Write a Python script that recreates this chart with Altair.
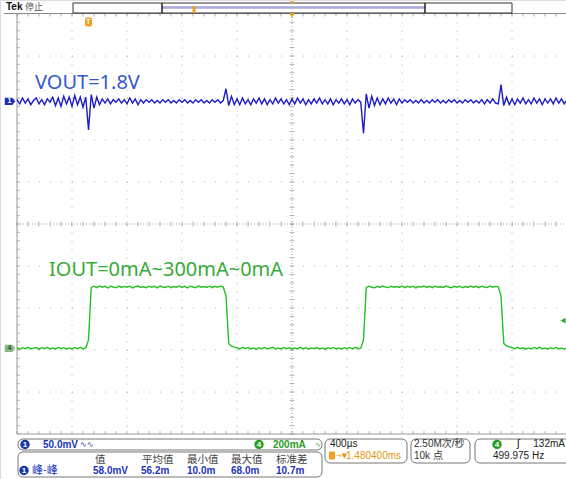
import altair as alt
import pandas as pd

# ---------------- data ----------------
# time base in ms (400 us/div, 10 divisions, sample step 0.02 ms)
t_ms = [round(-2.0 + 0.02 * i, 2) for i in range(201)]

# CH1: VOUT ripple in mV (AC part around 1.8 V)
vout_mv = [
    2, -3, 4, -2, 3, -4, 1, 4, -3, 2, -4, 3, -1, 5, -5, 4, -6, 6, -3, 5,
    -6, 7, -4, 5, -7, 5, -34, 8, -8, 5, -4, 3, -2, 3, -3, 2, -1, 3, -2, 2,
    -3, 4, -2, 3, -4, 2, -2, 2, -1, 2, -2, 1, -2, 2, -1, 2, -2, 1, -2, 2,
    -1, 2, -2, 1, -2, 2, -1, 2, -2, 1, -2, 2, -1, 2, -2, 1, 15, -5, 6, -4,
    3, -4, 4, -3, 2, -4, 3, -2, 4, -3, 3, -4, 2, -3, 4, -2, 3, -3, 2, -4,
    3, -3, 4, -2, 3, -4, 2, -3, 3, -2, 4, -3, 2, -3, 3, -4, 2, -2, 3, -3,
    2, -4, 3, -2, 2, -1, -38, 9, -8, 6, -5, 4, -4, 3, -3, 4, -2, 3, -4, 3,
    -2, 2, -1, 2, -2, 1, -2, 2, -2, 1, -2, 2, -1, 2, -2, 1, -2, 2, -1, 2,
    -2, 1, -2, 2, -1, 2, -2, 1, -2, 2, -3, 2, -2, 3, -2, -3, 20, -5, 5, -4,
    3, -4, 3, -2, 4, -3, 2, -3, 4, -2, 3, -4, 3, -2, 3, -3, 4, -2, 3, -3, 2,
]

# CH4: IOUT in mA (0 mA -> 300 mA -> 0 mA load step)
iout_ma = [
    2, -4, 3, -2, 5, -3, 1, 4, -5, 3, -2, 4, -3, 2, -4, 5, -2, 3, -4, 2,
    -3, 4, -2, 5, -3, 2, 40, 290, 296, 289, 297, 291, 295, 288, 296, 292, 289, 297, 290, 295,
    291, 296, 288, 294, 297, 290, 293, 289, 296, 291, 295, 288, 297, 292, 290, 296, 289, 294, 291, 297,
    290, 295, 288, 296, 292, 289, 297, 291, 294, 290, 296, 289, 295, 291, 297, 292, 250, 22, 10, 6,
    3, -4, 5, -2, 4, -3, 2, -5, 3, -2, 4, -3, 1, 5, -4, 2, -3, 4, -2, 3,
    -4, 2, -3, 5, -2, 3, -4, 2, -1, 4, -3, 2, -5, 3, -2, 4, -3, 2, -4, 3,
    -2, 4, -3, 5, -2, 1, 40, 290, 296, 291, 288, 295, 290, 297, 292, 289, 296, 291, 294, 290,
    297, 289, 295, 291, 296, 288, 294, 292, 297, 290, 295, 289, 296, 291, 293, 290, 297, 292, 288, 295,
    291, 296, 289, 294, 290, 297, 291, 295, 289, 296, 292, 290, 297, 291, 295, 293, 250, 24, 12, 7,
    4, -3, 5, -2, 3, -4, 2, -3, 4, -2, 5, -3, 2, -4, 3, -2, 4, -3, 2, -4, 3,
]

ch1_offset_div = 2.92     # CH1 position (div)
ch1_scale = 50.0          # mV/div
ch4_offset_div = -2.96    # CH4 position (div)
ch4_scale = 200.0         # mA/div
trigger_level_ma = 132.0
trigger_time_ms = -1.48

div_x = [-1.6, -1.2, -0.8, -0.4, 0.4, 0.8, 1.2, 1.6]
div_y = [-4, -3, -2, -1, 1, 2, 3, 4]
minor_x = [round(-2.0 + 0.08 * k, 2) for k in range(51)]
minor_y = [round(-5.0 + 0.2 * k, 1) for k in range(51)]

meas_headers = ["值", "平均值", "最小值", "最大值", "标准差"]
meas_values = ["58.0mV", "56.2m", "10.0m", "68.0m", "10.7m"]

# ---------------- scales ----------------
X = alt.Scale(domain=[-2, 2], range=[17, 567], nice=False, zero=False)
Y = alt.Scale(domain=[-5, 5], range=[434, 14], nice=False, zero=False)

one = pd.DataFrame({"k": [0]})
CJK = "Liberation Sans, Noto Sans CJK SC"
UI = "Liberation Sans"

BLUE_TXT = "#2233bb"
GREEN_TXT = "#2a9a2a"
ORANGE = "#f0a020"


def txt(s, x, y, color="#222", size=10, weight="normal", align="left", font=UI):
    return alt.Chart(one).mark_text(
        text=s, color=color, fontSize=size, fontWeight=weight, align=align,
        baseline="middle", font=font,
    ).encode(x=alt.value(x), y=alt.value(y))


def box(x1, x2, y1, y2, stroke="#777", fill="white", r=5, sw=1):
    return alt.Chart(one).mark_rect(
        fill=fill, stroke=stroke, strokeWidth=sw, cornerRadius=r
    ).encode(x=alt.value(x1), x2=alt.value(x2), y=alt.value(y1), y2=alt.value(y2))


def hrule(x1, x2, y, color, sw=1, dash=None):
    kw = dict(color=color, strokeWidth=sw)
    if dash:
        kw["strokeDash"] = dash
    return alt.Chart(one).mark_rule(**kw).encode(
        x=alt.value(x1), x2=alt.value(x2), y=alt.value(y))


def vrule(x, y1, y2, color, sw=1, dash=None):
    kw = dict(color=color, strokeWidth=sw)
    if dash:
        kw["strokeDash"] = dash
    return alt.Chart(one).mark_rule(**kw).encode(
        x=alt.value(x), y=alt.value(y1), y2=alt.value(y2))


def badge(x, y, label, fill):
    return [
        alt.Chart(one).mark_point(filled=True, shape="circle", size=90, color=fill, opacity=1)
        .encode(x=alt.value(x), y=alt.value(y)),
        txt(label, x, y, color="white", size=8, weight="bold", align="center"),
    ]


layers = []

# ---------------- graticule ----------------
layers.append(
    alt.Chart(pd.DataFrame({"t": div_x})).mark_rule(color="#b0b0b0", strokeDash=[1, 7.4])
    .encode(x=alt.X("t:Q", scale=X, axis=None), y=alt.value(14), y2=alt.value(434))
)
layers.append(
    alt.Chart(pd.DataFrame({"d": div_y})).mark_rule(color="#b0b0b0", strokeDash=[1, 10])
    .encode(y=alt.Y("d:Q", scale=Y, axis=None), x=alt.value(17), x2=alt.value(567))
)
# centre cross
layers.append(
    alt.Chart(one).mark_rule(color="#a8a8a8", strokeDash=[1, 2])
    .encode(x=alt.XDatum(0, scale=X, axis=None), y=alt.value(14), y2=alt.value(434))
)
layers.append(
    alt.Chart(one).mark_rule(color="#a8a8a8", strokeDash=[1, 2])
    .encode(y=alt.YDatum(0, scale=Y, axis=None), x=alt.value(17), x2=alt.value(567))
)
layers.append(
    alt.Chart(pd.DataFrame({"t": minor_x})).mark_tick(orient="vertical", size=5, thickness=1, color="#999")
    .encode(x=alt.X("t:Q", scale=X, axis=None), y=alt.YDatum(0, scale=Y, axis=None))
)
layers.append(
    alt.Chart(pd.DataFrame({"d": minor_y})).mark_tick(orient="horizontal", size=5, thickness=1, color="#999")
    .encode(y=alt.Y("d:Q", scale=Y, axis=None), x=alt.XDatum(0, scale=X, axis=None))
)
# borders + their ticks
layers.append(vrule(17, 14, 434, "#999"))
layers.append(hrule(4, 566, 13.5, "#888"))
layers.append(hrule(17, 566, 434, "#999"))
layers.append(
    alt.Chart(pd.DataFrame({"t": minor_x})).mark_tick(orient="vertical", size=3, thickness=1, color="#888")
    .encode(x=alt.X("t:Q", scale=X, axis=None), y=alt.value(15))
)
layers.append(
    alt.Chart(pd.DataFrame({"t": minor_x})).mark_tick(orient="vertical", size=3, thickness=1, color="#999")
    .encode(x=alt.X("t:Q", scale=X, axis=None), y=alt.value(432.5))
)
layers.append(
    alt.Chart(pd.DataFrame({"d": minor_y})).mark_tick(orient="horizontal", size=3, thickness=1, color="#999")
    .encode(y=alt.Y("d:Q", scale=Y, axis=None), x=alt.value(18.5))
)

# ---------------- traces ----------------
trace_df = pd.DataFrame({"t": t_ms, "vout": vout_mv, "iout": iout_ma})
layers.append(
    alt.Chart(trace_df)
    .transform_calculate(y=f"{ch1_offset_div} + datum.vout / {ch1_scale}")
    .mark_line(color="#1c1cc8", strokeWidth=1.4)
    .encode(x=alt.X("t:Q", scale=X, axis=None), y=alt.Y("y:Q", scale=Y, axis=None))
)
layers.append(
    alt.Chart(trace_df)
    .transform_calculate(y=f"{ch4_offset_div} + datum.iout / {ch4_scale}")
    .mark_line(color="#22c022", strokeWidth=1.4)
    .encode(x=alt.X("t:Q", scale=X, axis=None), y=alt.Y("y:Q", scale=Y, axis=None))
)

# channel ground markers
ch_path = "M-1,-0.7 L0.45,-0.7 L1,0 L0.45,0.7 L-1,0.7 Z"
layers.append(
    alt.Chart(one).mark_point(shape=ch_path, filled=True, size=110, color="#2030b0", opacity=1)
    .encode(x=alt.value(10), y=alt.YDatum(ch1_offset_div, scale=Y, axis=None))
)
layers.append(
    alt.Chart(one).mark_text(text="1", color="white", fontSize=7, fontWeight="bold", font=UI)
    .encode(x=alt.value(9.5), y=alt.YDatum(ch1_offset_div, scale=Y, axis=None))
)
layers.append(
    alt.Chart(one).mark_point(shape=ch_path, filled=True, size=110, color="#8ab88a", opacity=1)
    .encode(x=alt.value(10), y=alt.YDatum(ch4_offset_div, scale=Y, axis=None))
)
layers.append(
    alt.Chart(one).mark_text(text="4", color="#335533", fontSize=7, fontWeight="bold", font=UI)
    .encode(x=alt.value(9.5), y=alt.YDatum(ch4_offset_div, scale=Y, axis=None))
)
# trigger level marker (right edge)
layers.append(
    alt.Chart(one).mark_point(shape="triangle-left", filled=True, size=35, color="#22b022", opacity=1)
    .encode(x=alt.value(563), y=alt.YDatum(ch4_offset_div + trigger_level_ma / ch4_scale, scale=Y, axis=None))
)
# trigger position marker
layers.append(
    alt.Chart(one).mark_rect(color=ORANGE, cornerRadius=2, width=7, height=9)
    .encode(x=alt.XDatum(trigger_time_ms, scale=X, axis=None), y=alt.value(22))
)
layers.append(
    alt.Chart(one).mark_text(text="T", color="white", fontSize=7, fontWeight="bold", font=UI)
    .encode(x=alt.XDatum(trigger_time_ms, scale=X, axis=None), y=alt.value(22))
)

# ---------------- annotations ----------------
layers.append(txt("VOUT=1.8V", 35, 83, color="#3558cc", size=20, font="Noto Sans"))
layers.append(txt("IOUT=0mA~300mA~0mA", 49, 270, color="#38aa38", size=20, font="Noto Sans"))

# ---------------- top status bar ----------------
layers.append(txt("Tek", 6, 7, color="#111", size=10, weight="bold"))
layers.append(txt("停止", 25, 7, color="#555", size=9, font="Noto Sans CJK SC"))
layers.append(box(73, 512, 3, 13, stroke="#333", r=0))
layers.append(hrule(162, 425, 7.5, "#a8a8dc", sw=2.5))
layers.append(vrule(162, 3, 13, "#222", sw=1.5))
layers.append(vrule(425, 3, 13, "#222", sw=1.5))
layers.append(
    alt.Chart(one).mark_rect(color=ORANGE, width=3, height=7, cornerRadius=1)
    .encode(x=alt.value(194), y=alt.value(9.5))
)
layers.append(
    alt.Chart(one).mark_point(shape="triangle-down", filled=True, size=18, color=ORANGE, opacity=1)
    .encode(x=alt.XDatum(0, scale=X, axis=None), y=alt.value(3))
)
layers.append(
    alt.Chart(one).mark_point(shape="triangle-down", filled=True, size=30, color=ORANGE, opacity=1)
    .encode(x=alt.XDatum(0, scale=X, axis=None), y=alt.value(15.5))
)

# ---------------- bottom info panels ----------------
layers.append(box(18, 322, 439, 450))
layers.append(box(18, 322, 452, 477))
layers.append(box(325, 407, 439, 463))
layers.append(box(411, 470, 439, 463))
layers.append(box(475, 575, 439, 463))

layers += badge(25, 444.5, "1", "#1838a8")
layers.append(txt("50.0mV", 43, 445, color=BLUE_TXT, size=10, weight="bold"))
layers.append(txt("∿∿", 80, 445, color=BLUE_TXT, size=8, font="DejaVu Sans"))
layers += badge(259, 444.5, "4", "#2a9d2a")
layers.append(txt("200mA", 273, 445, color=GREEN_TXT, size=10, weight="bold"))
layers.append(txt("∿", 315, 445, color=GREEN_TXT, size=7, font="DejaVu Sans"))

layers += badge(24, 470.5, "1", "#1838a8")
layers.append(txt("峰-峰", 32, 471, color=BLUE_TXT, size=11, font="Noto Sans CJK SC"))
head_x = [95, 142, 187, 231, 276]
val_x = [93, 141, 187, 231, 276]
for h, v, hx, vx in zip(meas_headers, meas_values, head_x, val_x):
    layers.append(txt(h, hx, 460, color="#444", size=10.5, font="Noto Sans CJK SC"))
    layers.append(txt(v, vx, 471, color=BLUE_TXT, size=10, weight="bold"))

layers.append(txt("400µs", 330, 444, color="#222", size=10))
layers.append(
    alt.Chart(one).mark_rect(color=ORANGE, width=6, height=8, cornerRadius=1)
    .encode(x=alt.value(332), y=alt.value(455.5))
)
layers.append(txt("→▼", 336, 456, color="#e8960a", size=7, font="DejaVu Sans"))
layers.append(txt("1.480400ms", 346, 456, color="#e8960a", size=10))

layers.append(txt("2.50M次/秒", 414, 444, color="#333", size=10, font=CJK))
layers.append(txt("10k 点", 414, 456, color="#333", size=10, font=CJK))

layers += badge(497, 444.5, "4", "#2a9d2a")
layers.append(txt("ʃ", 517, 444, color="#222", size=11))
layers.append(txt("132mA", 565, 444, color="#222", size=10, align="right"))
layers.append(txt("499.975 Hz", 493, 456, color="#222", size=10))

chart = alt.layer(*layers).properties(
    width=566, height=479, padding=0,
    autosize=alt.AutoSizeParams(type="none"),
).configure_view(stroke=None).configure(background="white")

chart.save("out.html", embed_options={"renderer": "svg", "actions": False})
